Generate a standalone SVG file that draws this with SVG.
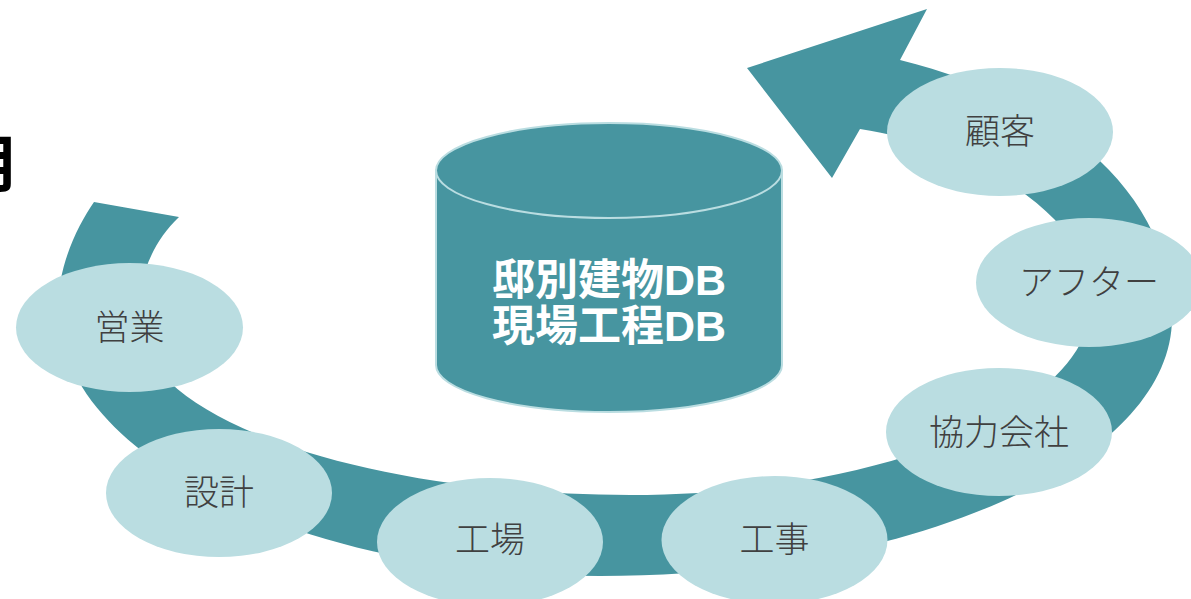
<svg xmlns="http://www.w3.org/2000/svg" width="1191" height="599" viewBox="0 0 1191 599">
  <style>
    .band { fill: #4795A0; }
    .node ellipse { fill: #BADDE1; }
    .node text { font-family: "Noto Sans CJK JP", "Liberation Sans", sans-serif; font-size: 35px; font-weight: 300; fill: #404040; text-anchor: middle; dominant-baseline: central; }
    .db { fill: #4795A0; stroke: #BADDE1; stroke-width: 2; }
    .dbtext { font-family: "Liberation Sans", "Noto Sans CJK JP", sans-serif; font-size: 43px; font-weight: bold; fill: #FFFFFF; text-anchor: middle; }
    .title { font-family: "Noto Sans CJK JP", sans-serif; font-size: 63px; font-weight: bold; fill: #000000; text-anchor: end; }
  </style>
  <rect width="1191" height="599" fill="#FFFFFF"/>

  <text class="title" x="17" y="186">用</text>

  <g id="connectors">
    <path class="band" d="M94,202 C78,225 58,265 58,308 C58,455 300,576 600,576 C916,576 1172,460 1172,318 C1172,195 1062,100 900,60 L927,9 L747,68 L832,178 L860,129 C970,145 1092,215 1092,300 C1092,408 885,495 630,495 C358,495 138,417 138,320 C138,280 150,245 179,217 Z"/>
  </g>

  <g id="database">
    <path class="db" d="M436,170.5 L436,365 A173,47 0 0 0 782,365 L782,170.5 Z"/>
    <ellipse class="db" cx="609" cy="170.5" rx="173" ry="47.5"/>
    <text class="dbtext" x="609" y="295">邸別建物DB</text>
    <text class="dbtext" x="609" y="341">現場工程DB</text>
  </g>

  <g id="node-eigyo" class="node">
    <ellipse cx="129.5" cy="327.5" rx="113.5" ry="64.5"/>
    <text x="129.5" y="324">営業</text>
  </g>
  <g id="node-sekkei" class="node">
    <ellipse cx="219" cy="493" rx="113" ry="64"/>
    <text x="219" y="489">設計</text>
  </g>
  <g id="node-kojo" class="node">
    <ellipse cx="490" cy="542" rx="113" ry="64"/>
    <text x="490" y="536">工場</text>
  </g>
  <g id="node-koji" class="node">
    <ellipse cx="774.5" cy="540" rx="113" ry="64"/>
    <text x="774.5" y="536">工事</text>
  </g>
  <g id="node-kyoryoku" class="node">
    <ellipse cx="999" cy="432" rx="113" ry="64"/>
    <text x="999" y="429">協力会社</text>
  </g>
  <g id="node-after" class="node">
    <ellipse cx="1089" cy="282.5" rx="113" ry="64.5"/>
    <text x="1089" y="279">アフター</text>
  </g>
  <g id="node-kokyaku" class="node">
    <ellipse cx="1000" cy="132" rx="113" ry="64"/>
    <text x="1000" y="128">顧客</text>
  </g>
</svg>
